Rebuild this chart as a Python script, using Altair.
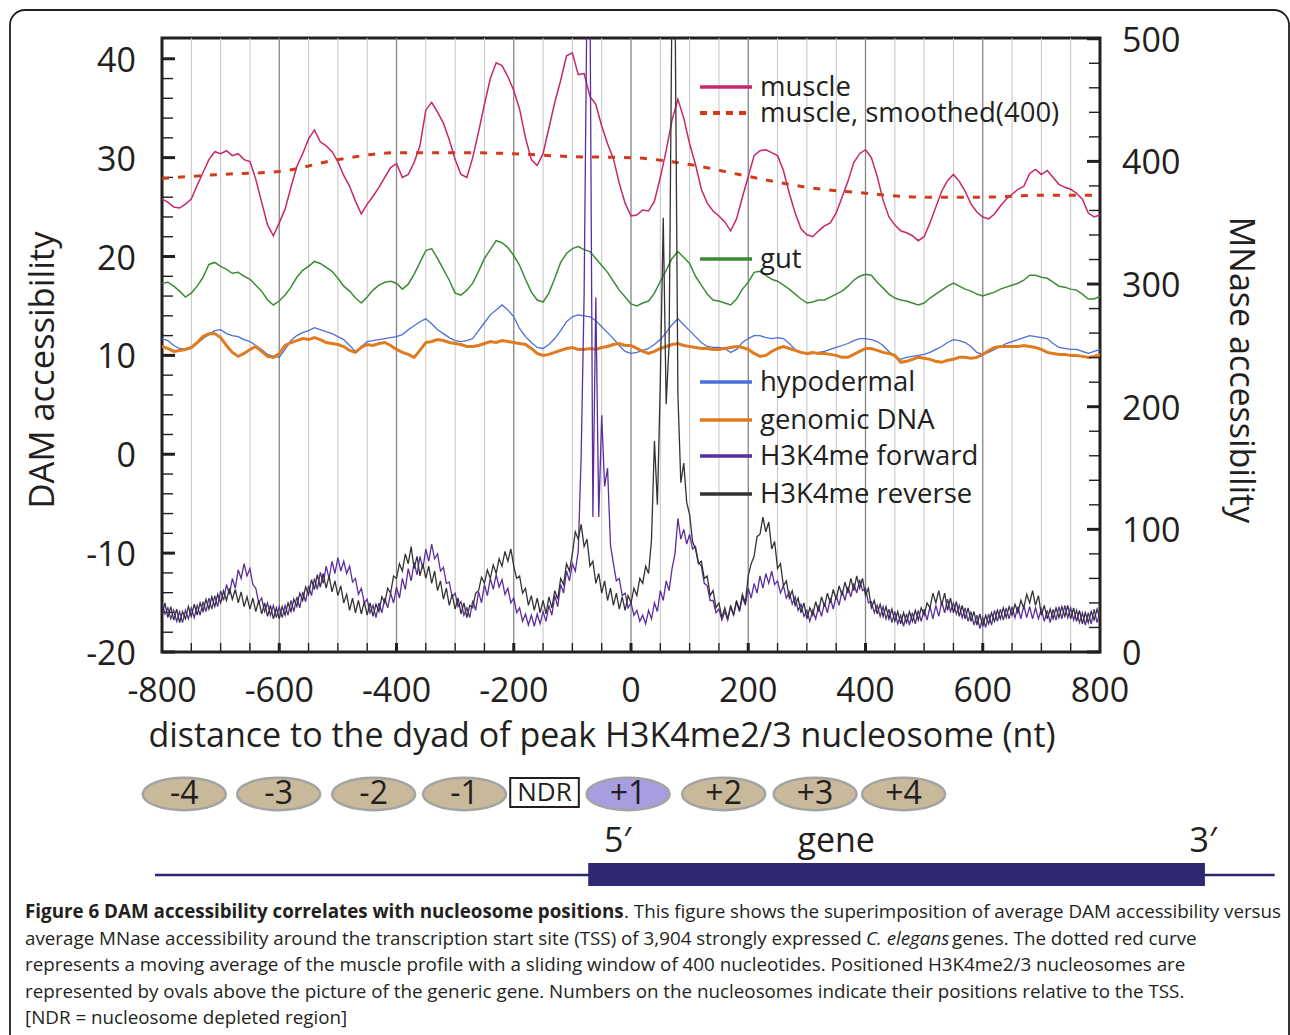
import altair as alt
import pandas as pd

FONT = "Open Sans"
INK = "#231f20"

# ---------------- data ----------------
positions_10 = list(range(-800, 801, 10))
positions_5 = list(range(-800, 801, 5))
positions_100 = list(range(-800, 801, 100))

muscle = [
    25.8, 25.5, 25.0, 24.9, 25.3, 25.8, 27.2, 28.5, 29.8, 30.6,
    30.4, 30.7, 30.2, 30.4, 29.8, 29.6, 27.8, 25.5, 23.2, 22.1,
    23.4, 24.8, 27.0, 29.1, 30.4, 31.9, 32.8, 31.6, 31.2, 30.6,
    29.6, 28.2, 27.1, 25.6, 24.3, 25.3, 26.1, 27.0, 28.0, 29.0,
    29.4, 28.0, 28.3, 29.5, 31.2, 34.8, 35.6, 34.6, 33.5, 31.8,
    29.8, 28.3, 28.0, 30.0, 32.6, 35.4, 38.0, 39.6, 39.3, 38.2,
    36.8, 34.9, 32.0, 29.8, 29.2, 30.4, 33.0, 35.6, 37.8, 40.3,
    40.6, 38.4, 38.5, 36.2, 35.4, 33.2, 31.4, 29.9, 27.4, 25.4,
    24.1, 24.2, 24.7, 24.6, 25.6, 28.0, 30.7, 33.8, 35.9, 34.0,
    31.4, 29.3, 26.8, 25.4, 24.6, 24.1, 23.5, 22.6, 23.8, 26.0,
    28.1, 30.2, 30.7, 30.8, 30.5, 30.2, 28.7, 26.4, 24.4, 22.8,
    22.2, 22.0, 22.6, 23.1, 23.4, 24.4, 26.0, 27.6, 29.5, 30.4,
    30.8, 30.0, 28.1, 25.7, 24.0, 23.2, 22.6, 22.4, 22.1, 21.6,
    22.0, 23.4, 25.0, 26.6, 27.7, 28.3, 27.6, 26.6, 25.3, 24.5,
    24.0, 23.8, 24.3, 25.1, 25.8, 26.3, 26.8, 27.1, 28.4, 28.8,
    28.3, 28.7, 28.0, 27.3, 27.0, 26.8, 26.4, 25.8, 24.4, 24.0,
    24.2,
]

muscle_smoothed = [27.9, 28.3, 28.6, 29.8, 30.5, 30.5, 30.4, 30.1, 30.0,
                   29.3, 28.1, 27.0, 26.4, 26.0, 26.0, 26.2, 26.2]

gut = [
    17.3, 17.4, 17.0, 16.5, 15.9, 16.3, 17.0, 17.9, 19.2, 19.4,
    19.0, 18.7, 18.3, 18.4, 18.0, 17.7, 17.1, 16.5, 15.6, 15.1,
    15.5, 16.1, 16.9, 17.9, 18.6, 19.0, 19.5, 19.3, 18.9, 18.5,
    17.8, 17.0, 16.5, 15.8, 15.3, 15.9, 16.6, 17.1, 17.4, 17.5,
    17.3, 16.7, 17.2, 18.2, 19.4, 20.6, 20.8, 19.8, 18.7, 17.6,
    16.3, 16.1, 16.6, 17.3, 18.5, 19.8, 20.7, 21.6, 21.4, 20.9,
    20.1, 19.1, 17.7, 16.4, 15.6, 15.4, 16.3, 17.8, 19.4, 20.3,
    20.8, 21.0, 20.7, 20.5, 19.8, 19.1, 18.4, 17.5, 16.6, 15.9,
    15.2, 15.0, 15.3, 15.5, 16.3, 17.5, 18.6, 19.8, 20.5, 19.9,
    19.3, 18.0, 17.1, 16.2, 15.6, 15.5, 15.3, 15.1, 15.7, 16.7,
    17.4, 18.4, 18.5, 18.1, 17.7, 17.5, 17.1, 16.7, 16.2, 15.7,
    15.3, 15.4, 15.6, 15.6, 15.9, 16.2, 16.5, 17.0, 17.6, 18.0,
    18.2, 18.1, 17.4, 16.8, 16.2, 15.8, 15.6, 15.5, 15.3, 15.1,
    15.3, 15.8, 16.2, 16.6, 17.0, 17.3, 17.0, 16.7, 16.5, 16.2,
    16.0, 16.2, 16.4, 16.7, 16.9, 17.1, 17.3, 17.6, 18.1, 18.1,
    17.9, 17.8, 17.4, 17.0, 16.9, 16.7, 16.6, 16.2, 15.7, 15.7,
    16.0,
]

hypodermal = [
    11.7, 11.5, 11.0, 10.7, 10.6, 10.7, 11.2, 11.7, 12.1, 12.5,
    12.6, 12.2, 12.0, 11.9, 11.6, 11.4, 11.0, 10.6, 10.1, 9.9,
    9.8, 10.6, 11.5, 12.0, 12.3, 12.5, 12.8, 12.6, 12.4, 12.2,
    11.9, 11.6, 11.0, 10.4, 10.9, 11.4, 11.5, 11.6, 11.7, 11.8,
    11.9, 12.1, 12.6, 13.0, 13.4, 13.7, 13.2, 12.6, 12.2, 11.8,
    11.5, 11.4, 11.5, 11.7, 12.5, 13.3, 14.1, 14.6, 15.1, 14.6,
    13.9, 12.7, 11.9, 11.3, 10.8, 10.7, 11.1, 11.7, 12.5, 13.4,
    13.9, 14.1, 14.0, 13.9, 13.5, 12.9, 12.3, 11.7, 11.0, 10.4,
    10.2, 10.3, 10.5, 10.7, 11.1, 11.6, 12.3, 13.1, 13.7, 13.1,
    12.5, 11.9, 11.3, 10.9, 10.8, 10.8, 10.7, 10.3, 10.6, 11.3,
    11.7, 12.0, 12.0, 11.8, 11.7, 11.8, 11.7, 11.2, 10.6, 10.3,
    10.1, 10.2, 10.3, 10.4, 10.6, 10.8, 11.0, 11.2, 11.5, 11.7,
    11.7, 11.6, 11.4, 11.0, 10.4, 9.9, 9.6, 9.8, 9.9, 10.0,
    10.1, 10.3, 10.6, 10.9, 11.3, 11.6, 11.5, 11.3, 10.9, 10.3,
    10.1, 10.3, 10.6, 10.9, 11.2, 11.4, 11.6, 11.8, 12.0, 11.9,
    11.8, 11.7, 11.2, 10.8, 10.7, 10.6, 10.6, 10.4, 10.2, 10.4,
    10.6,
]

genomic_dna = [
    10.9, 10.7, 10.4, 10.5, 10.6, 10.8, 11.3, 11.9, 12.2, 12.2,
    11.8, 11.0, 10.3, 9.9, 10.2, 10.6, 10.9, 10.4, 9.9, 9.8,
    10.2, 11.0, 11.3, 11.5, 11.7, 11.6, 11.8, 11.6, 11.3, 11.2,
    11.1, 10.9, 10.5, 10.3, 10.8, 11.1, 11.0, 11.2, 11.3, 11.0,
    10.6, 10.3, 10.1, 9.8, 10.5, 11.3, 11.4, 11.6, 11.5, 11.3,
    11.2, 11.1, 10.9, 10.9, 11.0, 11.2, 11.4, 11.3, 11.5, 11.4,
    11.3, 11.2, 11.1, 10.7, 10.2, 10.0, 10.1, 10.3, 10.5, 10.7,
    10.8, 10.6, 10.6, 10.7, 10.6, 10.8, 10.9, 11.1, 11.2, 11.0,
    11.0, 10.7, 10.4, 10.2, 10.4, 10.7, 10.9, 11.1, 11.2, 11.0,
    10.9, 10.8, 10.7, 10.7, 10.6, 10.6, 10.7, 10.8, 10.9, 10.8,
    10.6, 10.2, 9.9, 10.0, 10.4, 10.7, 10.9, 10.7, 10.5, 10.3,
    10.2, 10.3, 10.2, 10.2, 10.1, 10.0, 9.8, 9.8, 10.1, 10.4,
    10.7, 10.7, 10.5, 10.3, 10.2, 10.0, 9.3, 9.4, 9.6, 9.8,
    9.7, 9.6, 9.4, 9.3, 9.5, 9.6, 9.8, 9.8, 9.7, 9.8,
    10.1, 10.5, 10.8, 10.9, 10.9, 10.9, 10.9, 11.0, 10.9, 10.8,
    10.6, 10.3, 10.2, 10.1, 10.1, 10.0, 10.0, 9.9, 9.8, 9.9,
    10.1,
]

h3k4me_forward = [
    40, 31, 36, 27, 34, 25, 33, 24, 34, 27, 36, 28, 38, 30, 41, 33, 44, 35, 46, 37,
    50, 42, 55, 47, 60, 52, 67, 60, 72, 62, 68, 55, 52, 40, 44, 33, 40, 30, 38, 28,
    37, 28, 38, 30, 42, 33, 45, 36, 49, 41, 54, 46, 60, 51, 65, 56, 70, 60, 74, 64,
    77, 66, 74, 64, 70, 57, 60, 47, 52, 40, 43, 32, 38, 28, 40, 32, 44, 36, 48, 40,
    53, 44, 60, 51, 68, 58, 73, 63, 78, 68, 84, 74, 88, 76, 80, 66, 69, 56, 57, 45,
    48, 37, 41, 30, 36, 28, 42, 34, 49, 40, 55, 46, 60, 51, 63, 53, 59, 47, 52, 40,
    44, 32, 36, 25, 31, 22, 30, 21, 31, 23, 33, 25, 38, 30, 46, 37, 55, 48, 66, 58,
    72, 66, 82, 160, 290, 540, 540, 110, 289, 110, 193, 135, 150, 87, 72, 58, 60, 46, 48, 36,
    40, 30, 34, 25, 30, 23, 34, 27, 40, 33, 50, 42, 58, 50, 68, 80, 109, 92, 100, 88,
    96, 84, 86, 73, 70, 56, 54, 42, 42, 32, 35, 26, 33, 26, 37, 30, 41, 33, 45, 38,
    52, 44, 56, 48, 62, 52, 64, 56, 66, 55, 58, 48, 54, 44, 49, 39, 45, 34, 39, 29,
    34, 25, 34, 27, 37, 29, 40, 32, 44, 35, 46, 38, 50, 42, 53, 45, 56, 48, 59, 50,
    52, 40, 41, 32, 38, 29, 37, 27, 35, 24, 33, 23, 30, 21, 31, 22, 32, 23, 34, 25,
    35, 26, 37, 27, 38, 29, 41, 32, 43, 33, 40, 31, 38, 28, 36, 25, 33, 22, 30, 19,
    28, 20, 31, 22, 34, 25, 35, 26, 36, 27, 37, 28, 37, 27, 38, 28, 37, 27, 36, 27,
    35, 25, 34, 24, 35, 26, 37, 27, 38, 28, 36, 26, 34, 24, 32, 22, 32, 23, 35, 24,
    33,
]

h3k4me_reverse = [
    30, 40, 28, 37, 26, 35, 24, 33, 27, 37, 29, 39, 30, 40, 33, 43, 35, 45, 37, 47,
    40, 50, 42, 52, 43, 51, 40, 49, 37, 45, 35, 44, 33, 42, 31, 40, 29, 38, 27, 36,
    27, 37, 30, 40, 33, 43, 37, 48, 42, 53, 47, 59, 51, 63, 53, 64, 52, 62, 49, 58,
    46, 54, 40, 47, 34, 44, 32, 42, 31, 41, 30, 40, 29, 39, 33, 45, 40, 52, 48, 62,
    60, 72, 66, 80, 72, 86, 68, 78, 62, 72, 60, 70, 56, 66, 50, 58, 43, 52, 38, 47,
    35, 44, 31, 40, 28, 38, 36, 48, 50, 61, 56, 67, 60, 71, 64, 76, 70, 82, 74, 84,
    70, 60, 62, 48, 52, 38, 46, 34, 44, 32, 42, 31, 45, 36, 50, 43, 60, 55, 72, 66,
    80, 98, 92, 104, 86, 92, 70, 74, 56, 64, 48, 58, 42, 52, 38, 48, 35, 45, 34, 46,
    40, 52, 46, 60, 56, 70, 64, 92, 172, 120, 220, 354, 202, 251, 540, 540, 210, 138, 154, 122,
    112, 90, 84, 72, 74, 60, 62, 46, 50, 36, 40, 28, 36, 27, 38, 30, 42, 34, 47, 40,
    62, 72, 78, 94, 96, 110, 98, 106, 84, 90, 68, 72, 54, 58, 44, 50, 38, 44, 32, 40,
    27, 36, 30, 41, 33, 45, 37, 48, 40, 51, 43, 54, 46, 57, 48, 60, 50, 62, 52, 60,
    46, 52, 36, 42, 31, 39, 29, 37, 27, 35, 25, 33, 23, 32, 24, 33, 25, 34, 26, 36,
    30, 40, 36, 48, 40, 50, 38, 48, 34, 44, 32, 41, 29, 38, 27, 36, 25, 33, 22, 31,
    21, 30, 23, 32, 25, 34, 27, 36, 28, 37, 30, 39, 32, 42, 36, 47, 40, 50, 38, 46,
    30, 38, 27, 35, 27, 36, 28, 37, 29, 38, 27, 36, 25, 34, 23, 32, 24, 33, 26, 35,
    27,
]

x_tick_values = [-800, -600, -400, -200, 0, 200, 400, 600, 800]
dam_tick_values = [-20, -10, 0, 10, 20, 30, 40]
mnase_tick_values = [0, 100, 200, 300, 400, 500]
dam_minor_ticks = [v for v in range(-18, 42, 2) if v % 10 != 0]
mnase_minor_ticks = [v for v in range(20, 500, 20) if v % 100 != 0]
grid_bold = [-600, -400, -200, 0, 200, 400, 600]
grid_fine = [v for v in range(-750, 751, 50) if v % 200 != 0]

x_title = "distance to the dyad of peak H3K4me2/3 nucleosome (nt)"
dam_title = "DAM accessibility"
mnase_title = "MNase accessibility"

nucleosome_labels = ["-4", "-3", "-2", "-1", "+1", "+2", "+3", "+4"]
nucleosome_kind = ["other", "other", "other", "other", "first", "other", "other", "other"]
nucleosome_centre_nt = [-762, -601, -439, -284, -5, 158, 314, 465]
ndr_span_nt = [-206, -89]
gene_line_nt = [-812, 1098]
gene_body_nt = [-73, 979]

legend_labels = ["muscle", "muscle, smoothed(400)", "gut", "hypodermal",
                 "genomic DNA", "H3K4me forward", "H3K4me reverse"]

assert len(muscle) == len(positions_10) == len(gut) == len(hypodermal) == len(genomic_dna)
assert len(h3k4me_forward) == len(positions_5) == len(h3k4me_reverse)
assert len(muscle_smoothed) == len(positions_100)

# ---------------- layout / style ----------------
W, H = 938, 614
PAD_L, PAD_T = 162, 38

C_MUSCLE = "#c8256f"
C_SMOOTH = "#d13b1b"
C_GUT = "#3d8b37"
C_HYPO = "#4a6fd8"
C_GEN = "#e07b1f"
C_FWD = "#5b2d9e"
C_REV = "#333333"
legend_colors = [C_MUSCLE, C_SMOOTH, C_GUT, C_HYPO, C_GEN, C_FWD, C_REV]
legend_line_y = [87, 113, 259, 382, 420, 456, 494]


def rx(v):
    return v - PAD_L


def ry(v):
    return v - PAD_T


xs = alt.Scale(domain=[-800, 800], nice=False, zero=False)
ys_dam = alt.Scale(domain=[-20, 42.1], nice=False, zero=False)
ys_mn = alt.Scale(domain=[0, 500.6], nice=False, zero=False)

df10 = pd.DataFrame({"pos": positions_10, "muscle": muscle, "gut": gut,
                     "hypodermal": hypodermal, "genomic": genomic_dna})
df5 = pd.DataFrame({"pos": positions_5, "forward": h3k4me_forward,
                    "reverse": h3k4me_reverse})
dfs = pd.DataFrame({"pos": positions_100, "smoothed": muscle_smoothed})
one = pd.DataFrame({"k": [0]})


def X(field):
    return alt.X(field, scale=xs, axis=None)


def text_at(txt, x, y, size, **kw):
    return (alt.Chart(pd.DataFrame({"t": [txt]}))
            .mark_text(font=FONT, fontSize=size, color=INK, clip=False, **kw)
            .encode(x=alt.value(x), y=alt.value(y), text="t:N"))


layers_dam = []

# vertical grid lines
layers_dam.append(
    alt.Chart(pd.DataFrame({"x": grid_fine})).mark_rule(color="#c4c4c4", strokeWidth=1)
    .encode(x=X("x:Q"), y=alt.value(0), y2=alt.value(H))
)
layers_dam.append(
    alt.Chart(pd.DataFrame({"x": grid_bold})).mark_rule(color="#858585", strokeWidth=1.3)
    .encode(x=X("x:Q"), y=alt.value(0), y2=alt.value(H))
)
# inward ticks, bottom
layers_dam.append(
    alt.Chart(pd.DataFrame({"x": grid_fine})).mark_rule(color=INK, strokeWidth=1.4)
    .encode(x=X("x:Q"), y=alt.value(H - 9), y2=alt.value(H))
)
layers_dam.append(
    alt.Chart(pd.DataFrame({"x": grid_bold})).mark_rule(color=INK, strokeWidth=3)
    .encode(x=X("x:Q"), y=alt.value(H - 9), y2=alt.value(H))
)
# inward ticks, left
layers_dam.append(
    alt.Chart(pd.DataFrame({"v": dam_minor_ticks})).mark_rule(color=INK, strokeWidth=1.4)
    .encode(y=alt.Y("v:Q", scale=ys_dam, axis=None), x=alt.value(0), x2=alt.value(11))
)
layers_dam.append(
    alt.Chart(pd.DataFrame({"v": dam_tick_values})).mark_rule(color=INK, strokeWidth=3)
    .encode(y=alt.Y("v:Q", scale=ys_dam, axis=None), x=alt.value(0), x2=alt.value(13))
)
# tick labels (bottom, left)
layers_dam.append(
    alt.Chart(pd.DataFrame({"v": x_tick_values}))
    .transform_calculate(lab="'' + datum.v")
    .mark_text(font=FONT, fontSize=34, color=INK, baseline="middle", align="center", clip=False)
    .encode(x=X("v:Q"), y=alt.value(ry(692)), text="lab:N")
)
layers_dam.append(
    alt.Chart(pd.DataFrame({"v": dam_tick_values}))
    .transform_calculate(lab="'' + datum.v")
    .mark_text(font=FONT, fontSize=34, color=INK, baseline="middle", align="right",
               dy=3, clip=False)
    .encode(y=alt.Y("v:Q", scale=ys_dam, axis=None), x=alt.value(-26), text="lab:N")
)
# axis titles
layers_dam.append(text_at(x_title, rx(602), ry(737), 34, align="center", baseline="middle"))
layers_dam.append(text_at(dam_title, rx(44), ry(370), 34.5, align="center", baseline="middle",
                          angle=270))
layers_dam.append(text_at(mnase_title, rx(1240), ry(370), 34, align="center",
                          baseline="middle", angle=90))


def dam_line(col, color, width):
    return alt.Chart(df10).mark_line(color=color, strokeWidth=width, clip=True).encode(
        x=X("pos:Q"), y=alt.Y(f"{col}:Q", scale=ys_dam, axis=None))


layers_dam.append(dam_line("gut", C_GUT, 1.5))
layers_dam.append(dam_line("hypodermal", C_HYPO, 1.3))
layers_dam.append(dam_line("genomic", C_GEN, 3))
layers_dam.append(dam_line("muscle", C_MUSCLE, 1.5))
layers_dam.append(
    alt.Chart(dfs).mark_line(color=C_SMOOTH, strokeWidth=3, strokeDash=[7, 9],
                             interpolate="monotone", clip=True)
    .encode(x=X("pos:Q"), y=alt.Y("smoothed:Q", scale=ys_dam, axis=None))
)

# in-plot legend: coloured keys
for lab, col, yl in zip(legend_labels, legend_colors, legend_line_y):
    d = pd.DataFrame({"label": [lab]})
    if "smoothed" in lab:
        rule = alt.Chart(d).mark_rule(color=col, strokeWidth=4, strokeDash=[7, 6])
    else:
        rule = alt.Chart(d).mark_rule(color=col, strokeWidth=3.5)
    layers_dam.append(rule.encode(x=alt.value(rx(700)), x2=alt.value(rx(752)),
                                  y=alt.value(ry(yl))))
# legend labels: the two tightly stacked muscle entries form one two-line block
layers_dam.append(
    text_at(legend_labels[0] + "\n" + legend_labels[1], rx(760),
            ry(legend_line_y[0]) + 1, 27.5,
            align="left", baseline="middle", lineBreak="\n",
            lineHeight=legend_line_y[1] - legend_line_y[0])
)
for lab, yl in zip(legend_labels[2:], legend_line_y[2:]):
    layers_dam.append(text_at(lab, rx(760), ry(yl) + 1, 27.5, align="left",
                              baseline="middle"))

# nucleosome schematic
ELLIPSE = "M-1,0A1,0.39,0,1,1,1,0A1,0.39,0,1,1,-1,0Z"
nuc = pd.DataFrame({"pos": nucleosome_centre_nt, "label": nucleosome_labels,
                    "kind": nucleosome_kind})
layers_dam.append(
    alt.Chart(nuc).mark_point(shape=ELLIPSE, size=6900, filled=True, opacity=1,
                              stroke="#a3a3a3", strokeWidth=2.5, strokeOpacity=1, clip=False)
    .encode(x=X("pos:Q"), y=alt.value(ry(794)),
            fill=alt.Fill("kind:N", scale=alt.Scale(domain=["other", "first"],
                                                    range=["#c9b99b", "#a79ddf"]),
                          legend=None))
)
layers_dam.append(
    alt.Chart(nuc).mark_text(font=FONT, fontSize=32, color=INK, baseline="middle", clip=False)
    .encode(x=X("pos:Q"), y=alt.value(ry(794)), text="label:N")
)
ndr = pd.DataFrame({"a": [ndr_span_nt[0]], "b": [ndr_span_nt[1]], "label": ["NDR"]})
layers_dam.append(
    alt.Chart(ndr).mark_rect(fill="white", stroke=INK, strokeWidth=2, clip=False)
    .encode(x=X("a:Q"), x2="b:Q", y=alt.value(ry(778)), y2=alt.value(ry(807)))
)
layers_dam.append(
    alt.Chart(ndr).transform_calculate(mid="(datum.a + datum.b) / 2")
    .mark_text(font=FONT, fontSize=26, color=INK, baseline="middle", clip=False)
    .encode(x=X("mid:Q"), y=alt.value(ry(793)), text="label:N")
)

# gene schematic
gene = pd.DataFrame({"a": [gene_line_nt[0]], "b": [gene_line_nt[1]],
                     "c": [gene_body_nt[0]], "d": [gene_body_nt[1]]})
layers_dam.append(
    alt.Chart(gene).mark_rule(color="#2d2470", strokeWidth=2.5, clip=False)
    .encode(x=X("a:Q"), x2="b:Q", y=alt.value(ry(875)))
)
layers_dam.append(
    alt.Chart(gene).mark_rect(color="#2e2873", clip=False)
    .encode(x=X("c:Q"), x2="d:Q", y=alt.value(ry(863)), y2=alt.value(ry(886)))
)
gene_labels = pd.DataFrame({"pos": [gene_body_nt[0] + 50, 350, gene_body_nt[1] - 3],
                            "label": ["5\u2032", "gene", "3\u2032"]})
layers_dam.append(
    alt.Chart(gene_labels).mark_text(font=FONT, fontSize=34, color=INK,
                                     baseline="alphabetic", clip=False)
    .encode(x=X("pos:Q"), y=alt.value(ry(852)), text="label:N")
)

# caption
CAP = 18.8
caption = [
    ("Figure 6 DAM accessibility correlates with nucleosome positions", 25, 912, "bold", "normal"),
    (". This figure shows the superimposition of average DAM accessibility versus", 624, 912, "normal", "normal"),
    ("average MNase accessibility around the transcription start site (TSS) of 3,904 strongly expressed", 25, 939, "normal", "normal"),
    ("C. elegans", 866, 939, "normal", "italic"),
    ("genes. The dotted red curve", 952, 939, "normal", "normal"),
    ("represents a moving average of the muscle profile with a sliding window of 400 nucleotides. Positioned H3K4me2/3 nucleosomes are", 25, 965, "normal", "normal"),
    ("represented by ovals above the picture of the generic gene. Numbers on the nucleosomes indicate their positions relative to the TSS.", 25, 992, "normal", "normal"),
    ("[NDR = nucleosome depleted region]", 25, 1018, "normal", "normal"),
]
for txt, cx, cy, wt, st in caption:
    layers_dam.append(text_at(txt, rx(cx), ry(cy), CAP, align="left", baseline="middle",
                              fontWeight=wt, fontStyle=st))

# rounded outer border
layers_dam.append(
    alt.Chart(one).mark_rect(fill="white", fillOpacity=0, stroke=INK, strokeWidth=1.8,
                             cornerRadius=15, clip=False)
    .encode(x=alt.value(rx(10)), x2=alt.value(rx(1289)),
            y=alt.value(ry(10)), y2=alt.value(ry(1070)))
)

layers_mn = [
    alt.Chart(df5).mark_line(color=C_FWD, strokeWidth=1.3, clip=True).encode(
        x=X("pos:Q"), y=alt.Y("forward:Q", scale=ys_mn, axis=None)),
    alt.Chart(df5).mark_line(color=C_REV, strokeWidth=1.3, clip=True).encode(
        x=X("pos:Q"), y=alt.Y("reverse:Q", scale=ys_mn, axis=None)),
    alt.Chart(pd.DataFrame({"v": mnase_minor_ticks})).mark_rule(color=INK, strokeWidth=1.4)
    .encode(y=alt.Y("v:Q", scale=ys_mn, axis=None), x=alt.value(W - 11), x2=alt.value(W)),
    alt.Chart(pd.DataFrame({"v": mnase_tick_values})).mark_rule(color=INK, strokeWidth=3)
    .encode(y=alt.Y("v:Q", scale=ys_mn, axis=None), x=alt.value(W - 13), x2=alt.value(W)),
    alt.Chart(pd.DataFrame({"v": mnase_tick_values}))
    .transform_calculate(lab="'' + datum.v")
    .mark_text(font=FONT, fontSize=34, color=INK, baseline="middle", align="left",
               dy=3, clip=False)
    .encode(y=alt.Y("v:Q", scale=ys_mn, axis=None), x=alt.value(W + 22), text="lab:N"),
]

chart = (
    alt.layer(alt.layer(*layers_dam), alt.layer(*layers_mn))
    .resolve_scale(y="independent")
    .properties(width=W, height=H, autosize=alt.AutoSizeParams(type="none"),
                background="white",
                padding={"left": PAD_L, "top": PAD_T, "right": 1290 - PAD_L - W,
                         "bottom": 1035 - PAD_T - H})
    .configure_view(stroke=INK, strokeWidth=3)
)

chart.save("out.html", embed_options={"renderer": "svg", "actions": False})
